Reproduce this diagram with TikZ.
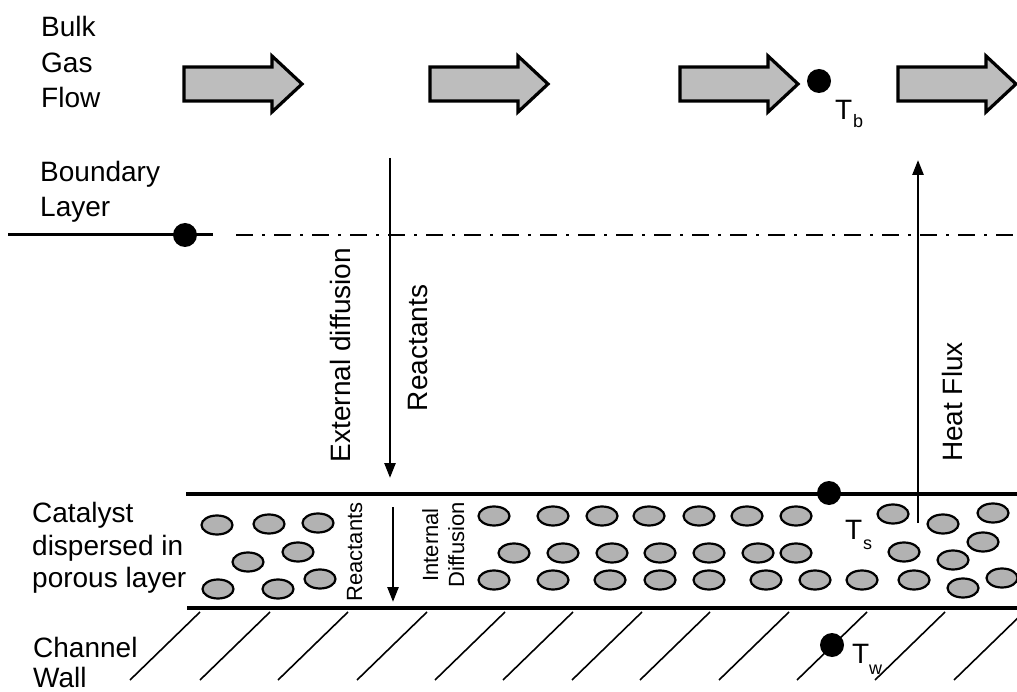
\documentclass[tikz,border=0pt]{standalone}
\usepackage{fontspec}
\setmainfont{Liberation Sans}
\usetikzlibrary{arrows.meta}
\definecolor{arrowfill}{gray}{0.74}
\definecolor{grainfill}{gray}{0.70}
\begin{document}
\begin{tikzpicture}[x=1pt,y=-1pt,
  big/.style={font=\fontsize{28}{34}\selectfont, inner sep=0pt},
  small/.style={font=\fontsize{22}{26}\selectfont, inner sep=0pt},
  lbl/.style={big, anchor=base west},
  sublbl/.style={font=\fontsize{18}{20}\selectfont, inner sep=0pt, anchor=base west},
  dotmark/.style={circle, fill=black, minimum size=24pt, inner sep=0pt},
  arrowbody/.style={fill=arrowfill, draw=black, line width=3.2pt, line join=miter},
  grain/.style={fill=grainfill, draw=black, line width=2.2pt},
  flux/.style={line width=2.6pt, -{Triangle[length=15pt,width=11pt]}},
  wall/.style={line width=4pt},
  hatch/.style={line width=1.6pt},
  flowarrow/.pic={\draw[arrowbody] (0,-17) -- (88,-17) -- (88,-28) -- (118,0)
                   -- (88,28) -- (88,17) -- (0,17) -- cycle;}]
\useasboundingbox (0,0) rectangle (1017,692);

% left-hand captions
\node[lbl] (bulk1) at (41,37) {Bulk};
\node[lbl] (bulk2) at (41,73) {Gas};
\node[lbl] (bulk3) at (41,108) {Flow};
\node[lbl] (bl1) at (40,182) {Boundary};
\node[lbl] (bl2) at (40,217) {Layer};
\node[lbl] (cat1) at (32,522) {Catalyst};
\node[lbl] (cat2) at (32,555) {dispersed in};
\node[lbl] (cat3) at (32,587) {porous layer};
\node[lbl] (ch1) at (33,657) {Channel};
\node[lbl] (ch2) at (33,687) {Wall};

% bulk gas flow arrows
\pic at (184,84) {flowarrow};
\pic at (430,84) {flowarrow};
\pic at (680,84) {flowarrow};
\pic at (898,84) {flowarrow};

% bulk temperature
\node[dotmark] (tb) at (819,81) {};
\node[lbl] (tbT) at (835,120) {T};
\node[sublbl] (tbsub) at (853,128) {b};

% boundary layer edge
\draw[line width=3pt] (8,235) -- (213,235);
\draw[line width=2.5pt, dash pattern=on 17pt off 9pt on 3pt off 9pt] (236,235) -- (1017,235);
\node[dotmark] (bldot) at (185,235) {};

% catalyst layer boundaries
\draw[wall] (186,494) -- (1017,494);
\draw[wall] (187,608) -- (1017,608);

% external diffusion
\coordinate (extTop) at (390,158);
\coordinate (extBot) at (390,478);
\draw[flux] (extTop) -- (extBot);
\node[big, rotate=90, anchor=base] (extlbl) at (350,355) {External diffusion};
\node[big, rotate=90, anchor=base] (reac1) at (427,348) {Reactants};

% heat flux
\coordinate (hfBot) at (918,523);
\coordinate (hfTop) at (918,160);
\draw[flux] (hfBot) -- (hfTop);
\node[big, rotate=90, anchor=base] (hflbl) at (962,402) {Heat Flux};

% internal diffusion
\coordinate (inTop) at (393,507);
\coordinate (inBot) at (393,602);
\draw[flux] (inTop) -- (inBot);
\node[small, rotate=90, anchor=base] (reac2) at (362,552) {Reactants};
\node[small, rotate=90, anchor=base] (int1) at (438,545) {Internal};
\node[small, rotate=90, anchor=base] (int2) at (464,545) {Diffusion};

% catalyst grains
\foreach \gx/\gy in {217/525, 269/524, 318/523, 298/552, 248/562, 218/589, 278/589, 320/579,
  494/516, 553/516, 602/516, 649/516, 699/516, 747/516, 796/516,
  514/553, 563/553, 612/553, 660/553, 709/553, 758/553, 796/553,
  494/580, 553/580, 610/580, 660/580, 709/580, 766/580, 815/580, 862/580,
  893/514, 943/524, 993/513, 983/542, 904/552, 953/560, 914/580, 963/588, 1002/578}
  \filldraw[grain] (\gx,\gy) ellipse [x radius=15.5pt, y radius=9.5pt];

% surface temperature
\node[dotmark] (ts) at (829,493) {};
\node[lbl] (tsT) at (845,539) {T};
\node[sublbl] (tssub) at (863,549) {s};

% channel wall hatching
\foreach \hx in {130,200,278,357,435,503,572,640,719,797,875,954}
  \draw[hatch] (\hx,680) -- (\hx+70,612);

% wall temperature
\node[dotmark] (tw) at (832,645) {};
\node[lbl] (twT) at (852,663) {T};
\node[sublbl] (twsub) at (869,674) {w};
\end{tikzpicture}
\end{document}
